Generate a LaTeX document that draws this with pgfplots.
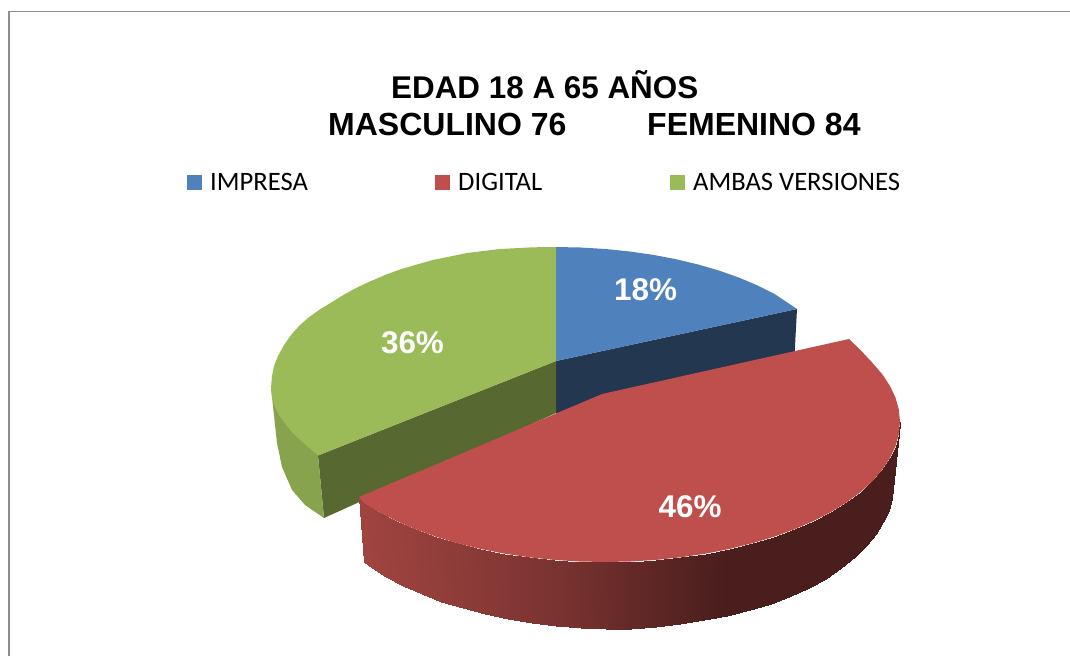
\documentclass[border=0pt]{standalone}
\usepackage{fontspec}
\setmainfont{Liberation Sans}
\newfontfamily\legfont{Carlito}
\usepackage{pgfplots}
\pgfplotsset{compat=1.18}
\definecolor{cblue}{HTML}{4F81BD}
\definecolor{cred}{HTML}{BE4F4C}
\definecolor{cgreen}{HTML}{9BBB59}
\definecolor{dblue}{HTML}{233751}
\definecolor{dgreen}{HTML}{576830}
\definecolor{mgreen}{HTML}{88A34D}
\definecolor{frameg}{HTML}{8E8E8E}
\newcommand{\ttl}{\fontsize{31.4}{36}\selectfont\bfseries}
\newcommand{\ttlb}{\fontsize{32}{36}\selectfont\bfseries}
\newcommand{\lgd}{\legfont\fontsize{26.6}{30}\selectfont}
\begin{document}
\begin{tikzpicture}
\path[use as bounding box] (0,0) rectangle (1070pt,656pt);
\begin{axis}[at={(0,0)},anchor=south west,x=1pt,y=1pt,
  xmin=0,xmax=1070,ymin=0,ymax=656,y dir=reverse,hide axis,
  colormap={redside}{rgb255=(74,30,29) rgb255=(160,68,64)},
  point meta min=0,point meta max=1]
% frame
\addplot[draw=frameg,line width=1.4pt] coordinates {(9,656) (9,11.5) (1070,11.5)};
% blue
\addplot[fill=dblue,draw=none] coordinates {(556,361) (797,309) (794,365) (556,425)};
\addplot[fill=cblue,draw=none] coordinates {(556,361) (556,247) (580.9,247.5) (605.5,249) (629.8,251.5) (653.5,254.9) (676.4,259.3) (698.5,264.6) (719.5,270.7) (739.2,277.7) (757.5,285.4) (774.3,293.8) (797,309)};
% green
\addplot[fill=dgreen,draw=none] coordinates {(556,361) (318,455.5) (324,518) (556,413)};
\addplot[fill=mgreen,draw=none] coordinates {(271,388) (272,397) (277,443) (282,467) (292,490) (305,505) (324,518) (318,455.5) (330,440) (300,410)};
\addplot[fill=cgreen,draw=none] coordinates {(556,361) (556,247) (533,247.3) (500,249) (467,253) (433,260) (415,265) (400,269.5) (385,275) (371,281) (358,287) (345,294) (332,302) (319,310) (308,318) (299,326) (291,335) (284,345) (278,356) (274,366) (272,376) (271,388) (272,397) (275,407) (279,415) (285,423) (291,431) (298,438) (307,446) (318,455.5)};
% red side
\addplot[surf,shader=interp,mesh/rows=2,point meta=explicit] table[x=x,y=y,meta=c] {
x y c
900 422 0
898.9 434.2 0
895.5 446.3 0
889.9 458.2 0
882.2 469.9 0
872.4 481.2 0
860.5 492 0
846.7 502.3 0
831 512 0
813.6 521 0
794.6 529.2 0
774.2 536.7 0
752.5 543.2 0
729.7 548.9 0
705.9 553.6 0.05
681.3 557.2 0.14
656.2 559.9 0.22
630.7 561.5 0.30
605 562 0.39
579.3 561.5 0.48
553.8 559.9 0.56
528.7 557.2 0.62
504.1 553.6 0.68
480.3 548.9 0.73
457.5 543.2 0.78
435.8 536.7 0.83
415.4 529.2 0.88
396.4 521 0.92
379 512 0.96
363.3 502.3 0.99
359 497 1
893 489 0
891.9 498 0
888.6 510 0
883.2 522 0
875.7 534 0
866.1 545.5 0
854.5 557 0
841.1 568 0
825.8 578.5 0
808.9 587.5 0
790.5 596 0
770.6 603.7 0
749.5 610.2 0
727.3 615.9 0
704.2 620.3 0.05
680.3 624 0.14
655.8 627 0.22
631 628.7 0.30
606 629 0.39
581 628 0.48
556.2 625.8 0.56
531.7 622.5 0.62
507.8 618.5 0.68
484.7 613.8 0.73
462.5 608 0.78
441.4 601.5 0.83
421.5 594 0.88
403.1 585.5 0.92
386.2 576.5 0.96
372 568 0.99
364 562 1
};
% red top
\addplot[fill=cred,draw=none] coordinates {(849,339) (602,394) (359,497) (363.3,502.3) (379,512) (396.4,521) (415.4,529.2) (435.8,536.7) (457.5,543.2) (480.3,548.9) (504.1,553.6) (528.7,557.2) (553.8,559.9) (579.3,561.5) (605,562) (630.7,561.5) (656.2,559.9) (681.3,557.2) (705.9,553.6) (729.7,548.9) (752.5,543.2) (774.2,536.7) (794.6,529.2) (813.6,521) (831,512) (846.7,502.3) (860.5,492) (872.4,481.2) (882.2,469.9) (889.9,458.2) (895.5,446.3) (898.9,434.2) (900,422) (898.9,409.8) (895.5,397.7) (889.9,385.8) (882.2,374.1) (872.4,362.8) (860.5,350)};
% legend swatches
\addplot[fill=cblue,draw=none] coordinates {(187,175) (202,175) (202,190) (187,190)};
\addplot[fill=cred,draw=none] coordinates {(435,175) (449.5,175) (449.5,190) (435,190)};
\addplot[fill=cgreen,draw=none] coordinates {(670,175) (684.5,175) (684.5,190) (670,190)};
% text
\node[anchor=base west,inner sep=0] at (axis cs:391,98) {\ttl EDAD 18 A 65 AÑOS};
\node[anchor=base west,inner sep=0] at (axis cs:328,135) {\ttlb MASCULINO 76};
\node[anchor=base west,inner sep=0] at (axis cs:647,135) {\ttlb FEMENINO 84};
\node[anchor=base west,inner sep=0] at (axis cs:210,190) {\lgd IMPRESA};
\node[anchor=base west,inner sep=0] at (axis cs:458,190) {\lgd DIGITAL};
\node[anchor=base west,inner sep=0] at (axis cs:693,190) {\lgd AMBAS VERSIONES};
\node[anchor=base,inner sep=0,text=white] at (axis cs:645.5,300) {\ttl 18\%};
\node[anchor=base,inner sep=0,text=white] at (axis cs:412.5,353) {\ttl 36\%};
\node[anchor=base,inner sep=0,text=white] at (axis cs:690,517) {\ttl 46\%};
\end{axis}
\end{tikzpicture}
\end{document}
